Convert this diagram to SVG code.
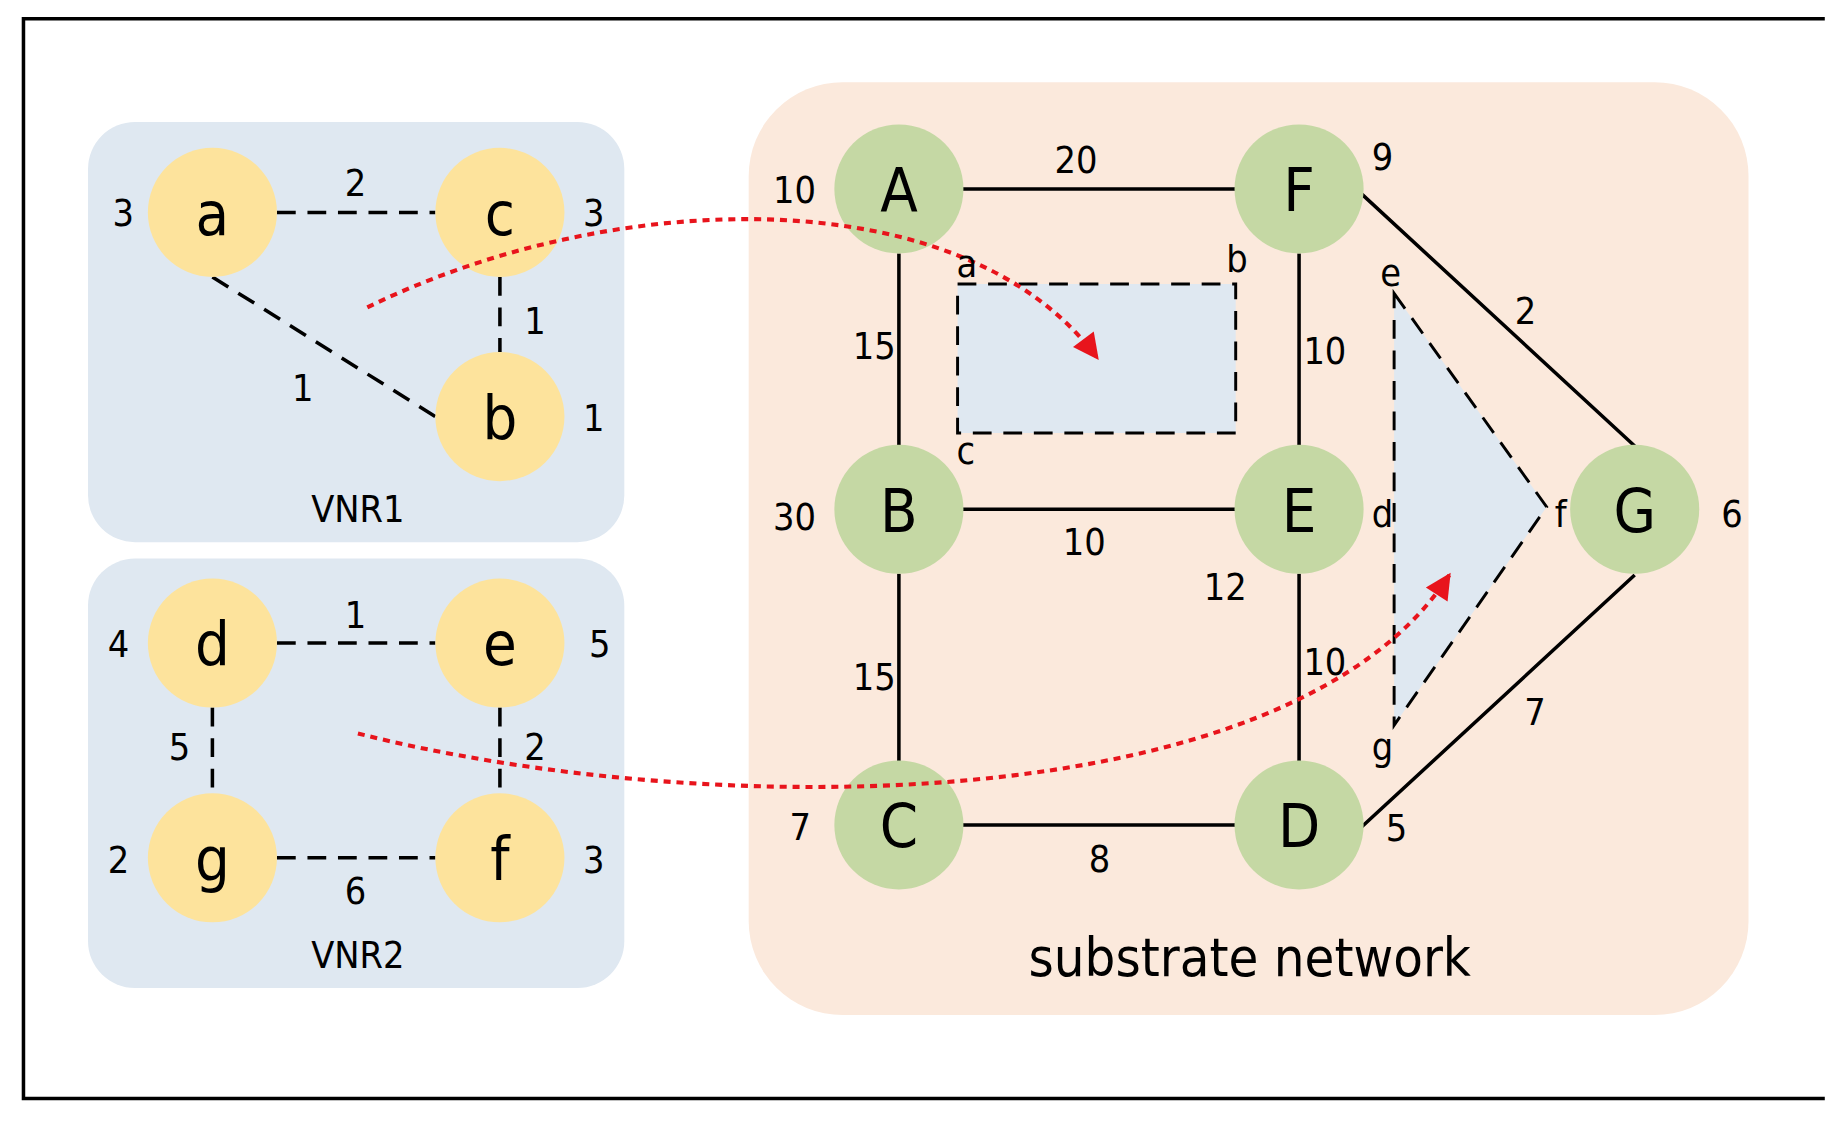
<svg xmlns="http://www.w3.org/2000/svg" width="1840" height="1122" viewBox="0 0 1840 1122">
<style>
text{font-family:"DejaVu Sans Condensed","DejaVu Sans",sans-serif;fill:#000;text-anchor:middle}
.n{font-size:52px}
.w{font-size:32px}
.s{stroke:#000;stroke-width:3;fill:none}
.d{stroke:#000;stroke-width:3;fill:none;stroke-dasharray:16 10}
.db{stroke:#000;stroke-width:2.5;fill:#dfe8f1;stroke-dasharray:16 10}
.y{fill:#fde39c}
.gr{fill:#c5d8a4}
.r{stroke:#e8141c;stroke-width:3.5;fill:none;stroke-dasharray:6 5}
</style>
<defs><marker id="ar" viewBox="0 0 10 10" refX="9" refY="5" markerWidth="30" markerHeight="22" orient="auto" markerUnits="userSpaceOnUse"><path d="M0,0 L10,5 L0,10 z" fill="#e8141c"/></marker></defs>
<rect width="1840" height="1122" fill="#fff"/>
<g transform="scale(1.1735)">
<path class="s" d="M1555,16 H20 V936 H1555" stroke-width="2"/>
<rect x="75" y="104" width="457" height="358" rx="40" fill="#dfe8f1"/>
<rect x="75" y="476" width="457" height="366" rx="40" fill="#dfe8f1"/>
<rect x="638" y="70" width="852" height="795" rx="80" fill="#fbe9dc"/>
<text x="305" y="445" class="w">VNR1</text>
<text x="305" y="825" class="w">VNR2</text>
<text x="1065" y="832" style="font-size:46px">substrate network</text>
<rect x="816" y="242" width="237" height="127" class="db"/>
<path d="M1188,250 L1318,432 L1188,618 Z" class="db"/>
<g id="connectors">
<path class="s" d="M820,161H1053M766,216V380M820,434H1053M766,489V649M1107,216V380M1107,489V649M820,703H1053M1160,165L1393,380M1160,705L1393,490"/>
<path class="d" d="M236,181H371M426,236V300M181,236L371,355M236,548H371M181,603V676M426,603V676M236,731H371"/>
</g>
<g id="a"><circle class="y" cx="181" cy="181" r="55"/><text class="n" x="181" y="200">a</text></g>
<g id="c"><circle class="y" cx="426" cy="181" r="55"/><text class="n" x="426" y="200">c</text></g>
<g id="b"><circle class="y" cx="426" cy="355" r="55"/><text class="n" x="426" y="374">b</text></g>
<g id="d"><circle class="y" cx="181" cy="548" r="55"/><text class="n" x="181" y="567">d</text></g>
<g id="e"><circle class="y" cx="426" cy="548" r="55"/><text class="n" x="426" y="567">e</text></g>
<g id="g"><circle class="y" cx="181" cy="731" r="55"/><text class="n" x="181" y="750">g</text></g>
<g id="f"><circle class="y" cx="426" cy="731" r="55"/><text class="n" x="426" y="750">f</text></g>
<g id="A"><circle class="gr" cx="766" cy="161" r="55"/><text class="n" x="766" y="180">A</text></g>
<g id="F"><circle class="gr" cx="1107" cy="161" r="55"/><text class="n" x="1107" y="180">F</text></g>
<g id="B"><circle class="gr" cx="766" cy="434" r="55"/><text class="n" x="766" y="453">B</text></g>
<g id="E"><circle class="gr" cx="1107" cy="434" r="55"/><text class="n" x="1107" y="453">E</text></g>
<g id="C"><circle class="gr" cx="766" cy="703" r="55"/><text class="n" x="766" y="722">C</text></g>
<g id="D"><circle class="gr" cx="1107" cy="703" r="55"/><text class="n" x="1107" y="722">D</text></g>
<g id="G"><circle class="gr" cx="1393" cy="434" r="55"/><text class="n" x="1393" y="453">G</text></g>
<g id="mapping">
<path class="r" d="M313,262 C520,160 820,150 935,305" marker-end="url(#ar)"/>
<path class="r" d="M305,625 C600,700 1100,700 1235,490" marker-end="url(#ar)"/>
</g>
<g class="w">
<text x="105" y="193">3</text><text x="506" y="193">3</text><text x="303" y="167">2</text><text x="456" y="285">1</text><text x="258" y="342">1</text><text x="506" y="367">1</text>
<text x="101" y="560">4</text><text x="511" y="560">5</text><text x="303" y="535">1</text><text x="153" y="648">5</text><text x="456" y="648">2</text><text x="101" y="744">2</text><text x="506" y="744">3</text><text x="303" y="770">6</text>
<text x="677" y="173">10</text><text x="917" y="147">20</text><text x="1178" y="145">9</text><text x="745" y="306">15</text><text x="1129" y="310">10</text><text x="1300" y="276">2</text>
<text x="677" y="452">30</text><text x="924" y="473">10</text><text x="1044" y="511">12</text><text x="1476" y="449">6</text>
<text x="745" y="588">15</text><text x="1129" y="575">10</text><text x="1308" y="618">7</text>
<text x="682" y="716">7</text><text x="937" y="743">8</text><text x="1190" y="717">5</text>
<text x="824" y="236">a</text><text x="1054" y="232">b</text><text x="823" y="395">c</text><text x="1185" y="244">e</text><text x="1178" y="449">d</text><text x="1330" y="449">f</text><text x="1178" y="648">g</text>
</g>
</g>
</svg>
